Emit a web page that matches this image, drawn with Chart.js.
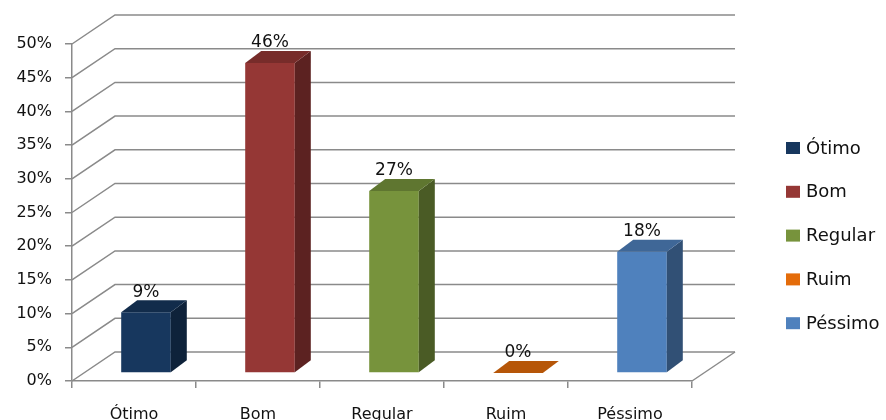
<!DOCTYPE html>
<html lang="pt-BR">
<head>
  <meta charset="UTF-8" />
  <title>Avaliação</title>
  <script src="https://cdn.jsdelivr.net/npm/chart.js"></script>
  <style>
    html, body { margin: 0; padding: 0; background: #fff; }
  </style>
</head>
<body>
  <canvas id="chart" width="886" height="420"></canvas>

  <script>
    const categories = ['Ótimo', 'Bom', 'Regular', 'Ruim', 'Péssimo'];
    const percentages = [9, 46, 27, 0, 18];
    const barColors = ['#17375E', '#953735', '#77933C', '#E46C0A', '#4F81BD'];
    const yMax = 50;
    const yStep = 5;

    // fake 3D: floor/back-wall depth, bar front plane and bar thickness
    const DEPTH = { x: 43, y: -29 };
    const PLANE = { x: 12, y: -8 };
    const BAR_DEPTH = { x: 16, y: -12 };
    const GRID = '#8a8a8a';
    const FONT = '"DejaVu Sans", sans-serif';

    function shade(hex, f) {
      const n = parseInt(hex.slice(1), 16);
      const r = Math.round(((n >> 16) & 255) * f);
      const g = Math.round(((n >> 8) & 255) * f);
      const b = Math.round((n & 255) * f);
      return `rgb(${r}, ${g}, ${b})`;
    }

    const box3d = {
      id: 'box3d',
      beforeDatasetsDraw(chart) {
        const { ctx, chartArea: a, scales: { y } } = chart;
        ctx.save();
        ctx.strokeStyle = GRID;
        ctx.lineWidth = 1.5;
        // back wall gridlines + left wall diagonals
        y.ticks.forEach(t => {
          const py = y.getPixelForValue(t.value);
          ctx.beginPath();
          ctx.moveTo(a.left, py);
          ctx.lineTo(a.left + DEPTH.x, py + DEPTH.y);
          ctx.lineTo(a.right + DEPTH.x, py + DEPTH.y);
          ctx.stroke();
        });
        // right edge of the floor
        ctx.beginPath();
        ctx.moveTo(a.right, a.bottom);
        ctx.lineTo(a.right + DEPTH.x, a.bottom + DEPTH.y);
        ctx.stroke();
        ctx.restore();

        // bars sit a bit behind the front edge of the floor
        ctx.save();
        ctx.translate(PLANE.x, PLANE.y);
      },
      afterDatasetsDraw(chart) {
        const ctx = chart.ctx;
        const meta = chart.getDatasetMeta(0);
        meta.data.forEach((bar, i) => {
          const { x, y, base, width } = bar.getProps(['x', 'y', 'base', 'width'], true);
          const l = x - width / 2, r = x + width / 2;
          const dx = BAR_DEPTH.x, dy = BAR_DEPTH.y;

          ctx.fillStyle = shade(barColors[i], 0.62);
          ctx.beginPath();
          ctx.moveTo(r, y);
          ctx.lineTo(r + dx, y + dy);
          ctx.lineTo(r + dx, base + dy);
          ctx.lineTo(r, base);
          ctx.closePath();
          ctx.fill();

          ctx.fillStyle = shade(barColors[i], 0.8);
          ctx.beginPath();
          ctx.moveTo(l, y);
          ctx.lineTo(r, y);
          ctx.lineTo(r + dx, y + dy);
          ctx.lineTo(l + dx, y + dy);
          ctx.closePath();
          ctx.fill();

          ctx.fillStyle = '#111';
          ctx.font = '17px ' + FONT;
          ctx.textAlign = 'center';
          ctx.textBaseline = 'middle';
          ctx.fillText(percentages[i] + '%', x, y - 20);
        });
        ctx.restore();
      },
      afterDraw(chart) {
        const { ctx, chartArea: a } = chart;
        ctx.save();
        ctx.font = '18px ' + FONT;
        ctx.textAlign = 'left';
        ctx.textBaseline = 'middle';
        categories.forEach((c, i) => {
          const cy = 148 + i * 43.8;
          ctx.fillStyle = barColors[i];
          ctx.fillRect(a.right + 94, cy - 6, 14, 12);
          ctx.fillStyle = '#111';
          ctx.fillText(c, a.right + 114, cy + 1);
        });
        ctx.restore();
      }
    };

    new Chart(document.getElementById('chart'), {
      type: 'bar',
      data: {
        labels: categories,
        datasets: [{
          data: percentages,
          backgroundColor: barColors,
          borderWidth: 0,
          categoryPercentage: 1,
          barPercentage: 0.4,
          clip: false
        }]
      },
      options: {
        responsive: false,
        animation: false,
        layout: { padding: { top: 44, right: 194, left: 0, bottom: 0 } },
        plugins: {
          legend: { display: false },
          tooltip: { enabled: false }
        },
        scales: {
          x: {
            afterFit(scale) { scale.height = 39; },
            grid: { drawOnChartArea: false, drawTicks: true, tickLength: 7, color: GRID, lineWidth: 1.5 },
            border: { display: true, color: GRID, width: 1.5 },
            ticks: { color: '#111', padding: 17, font: { family: FONT, size: 16 } }
          },
          y: {
            min: 0,
            max: yMax,
            afterFit(scale) { scale.width = 72; },
            grid: { drawOnChartArea: false, drawTicks: true, tickLength: 7, color: GRID, lineWidth: 1.5 },
            border: { display: true, color: GRID, width: 1.5 },
            ticks: {
              stepSize: yStep,
              color: '#111',
              padding: 13,
              font: { family: FONT, size: 16 },
              callback: v => v + '%'
            }
          }
        }
      },
      plugins: [box3d]
    });
  </script>
</body>
</html>
